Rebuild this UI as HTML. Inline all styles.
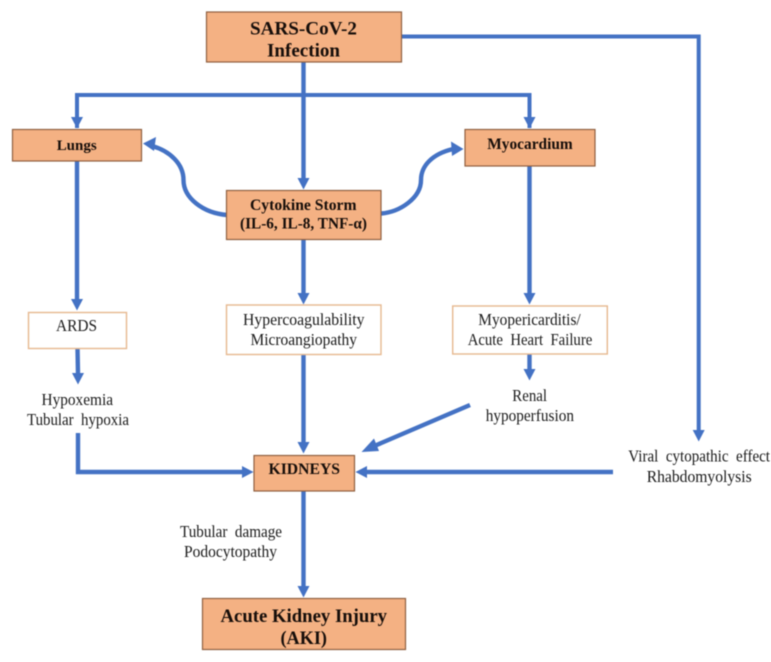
<!DOCTYPE html>
<html>
<head>
<meta charset="utf-8">
<style>
html,body{margin:0;padding:0;background:#fff;width:771px;height:662px;overflow:hidden}
svg{display:block}
text{font-family:"Liberation Serif",serif;fill:#1a1a1a;font-size:16.5px}
.b text{font-weight:bold;fill:#160e0a}
.o{fill:#F4B183;stroke:#8f6040;stroke-width:1.2}
.w{fill:#fff;stroke:#E6B88F;stroke-width:1.4}
.l{fill:none;stroke:#4472C4;stroke-width:4.4}
.t{fill:none;stroke:#4472C4;stroke-width:4}
.a{fill:#4472C4}
</style>
</head>
<body>
<svg width="771" height="662" viewBox="0 0 771 662" xmlns="http://www.w3.org/2000/svg">
<g style="filter:blur(0.4px)">
<!-- connectors -->
<path class="l" d="M303.500 62V180"/>
<path class="t" d="M77 128V95H529.500V128"/>
<path class="t" d="M401 36.500H698.700V430"/>
<path class="l" d="M77 161V300"/>
<path class="l" d="M529.500 166V295"/>
<path class="l" d="M303.500 240V295"/>
<path class="l" d="M77.500 348L78 374"/>
<path class="l" d="M303.500 354V444"/>
<path class="l" d="M529.500 354V371"/>
<path class="l" d="M470 405L372 447"/>
<path class="l" d="M78 433V472H244"/>
<path class="l" d="M613 472H366"/>
<path class="l" d="M303.500 491V588"/>
<path class="l" d="M227 215C203 213 183.500 198 183.500 180C183.500 164 170 151 152 146"/>
<path class="l" d="M381 213.500C400 212 421 198 421 180C421 166 432 154 453 149"/>
<!-- arrowheads -->
<polygon class="a" points="71,117 83,117 77,128.500"/>
<polygon class="a" points="523.500,117 535.500,117 529.500,128.500"/>
<polygon class="a" points="297.500,178 309.500,178 303.500,189.500"/>
<polygon class="a" points="692.700,430 704.700,430 698.700,441.500"/>
<polygon class="a" points="71,299 83,299 77,310.500"/>
<polygon class="a" points="523.500,293 535.500,293 529.500,304.500"/>
<polygon class="a" points="297.500,293 309.500,293 303.500,304.500"/>
<polygon class="a" points="72,373 84,373 78,384.500"/>
<polygon class="a" points="297.500,442 309.500,442 303.500,453.500"/>
<polygon class="a" points="523.500,369 535.500,369 529.500,380.500"/>
<polygon class="a" points="361.500,452 374,438.500 379,451"/>
<polygon class="a" points="242,466 242,478 253.500,472"/>
<polygon class="a" points="367,466 367,478 355.500,472"/>
<polygon class="a" points="297.500,586 309.500,586 303.500,597.500"/>
<polygon class="a" points="143,143.500 156,137 154,151"/>
<polygon class="a" points="463.500,149 451,141.500 452,156"/>
<!-- boxes -->
<rect class="o" x="206.500" y="12" width="195" height="50"/>
<rect class="o" x="12.500" y="129.500" width="129" height="31.500"/>
<rect class="o" x="226.500" y="190.500" width="154.500" height="49"/>
<rect class="o" x="465" y="129.500" width="130" height="36.500"/>
<rect class="w" x="28.500" y="312.500" width="98" height="36"/>
<rect class="w" x="226.500" y="305" width="154.500" height="49.500"/>
<rect class="w" x="452.700" y="306" width="154.600" height="48"/>
<rect class="o" x="254" y="455.500" width="100.500" height="35.500"/>
<rect class="o" x="202.500" y="598.500" width="203" height="51"/>
<!-- labels -->
<g class="b">
<text x="250" y="34.700" style="font-size:18.500px" textLength="107" lengthAdjust="spacingAndGlyphs">SARS-CoV-2</text>
<text x="267" y="56.700" style="font-size:18.500px" textLength="73" lengthAdjust="spacingAndGlyphs">Infection</text>
<text x="56.700" y="150" style="font-size:15px" textLength="40" lengthAdjust="spacingAndGlyphs">Lungs</text>
<text x="250" y="210" style="font-size:15.500px" textLength="106.500" lengthAdjust="spacingAndGlyphs">Cytokine Storm</text>
<text x="240" y="228.300" style="font-size:15.500px" textLength="127" lengthAdjust="spacingAndGlyphs">(IL-6, IL-8, TNF-α)</text>
<text x="487.300" y="149" style="font-size:16px" textLength="85.400" lengthAdjust="spacingAndGlyphs">Myocardium</text>
<text x="268.500" y="474" style="font-size:16px" textLength="71.500" lengthAdjust="spacingAndGlyphs">KIDNEYS</text>
<text x="220.500" y="622" style="font-size:18.500px" textLength="166.500" lengthAdjust="spacingAndGlyphs">Acute Kidney Injury</text>
<text x="280.500" y="644" style="font-size:18.500px" textLength="46.500" lengthAdjust="spacingAndGlyphs">(AKI)</text>
</g>
<text x="56" y="331" textLength="41" lengthAdjust="spacingAndGlyphs">ARDS</text>
<text x="243" y="325" textLength="121.500" lengthAdjust="spacingAndGlyphs">Hypercoagulability</text>
<text x="250.500" y="345" textLength="106.500" lengthAdjust="spacingAndGlyphs">Microangiopathy</text>
<text x="478.300" y="325" textLength="102.400" lengthAdjust="spacingAndGlyphs">Myopericarditis/</text>
<text x="467.700" y="345" textLength="124.600" lengthAdjust="spacingAndGlyphs">Acute&#160; Heart&#160; Failure</text>
<text x="512.300" y="401" textLength="34.700" lengthAdjust="spacingAndGlyphs">Renal</text>
<text x="485.700" y="421" textLength="88.300" lengthAdjust="spacingAndGlyphs">hypoperfusion</text>
<text x="41.500" y="405" textLength="71.500" lengthAdjust="spacingAndGlyphs">Hypoxemia</text>
<text x="27" y="425" textLength="102" lengthAdjust="spacingAndGlyphs">Tubular&#160; hypoxia</text>
<text x="628.300" y="461.700" textLength="141.700" lengthAdjust="spacingAndGlyphs">Viral&#160; cytopathic&#160; effect</text>
<text x="646.700" y="482" textLength="105" lengthAdjust="spacingAndGlyphs">Rhabdomyolysis</text>
<text x="180" y="537" textLength="102" lengthAdjust="spacingAndGlyphs">Tubular&#160; damage</text>
<text x="184" y="557" textLength="93" lengthAdjust="spacingAndGlyphs">Podocytopathy</text>
</g>
</svg>
</body>
</html>
